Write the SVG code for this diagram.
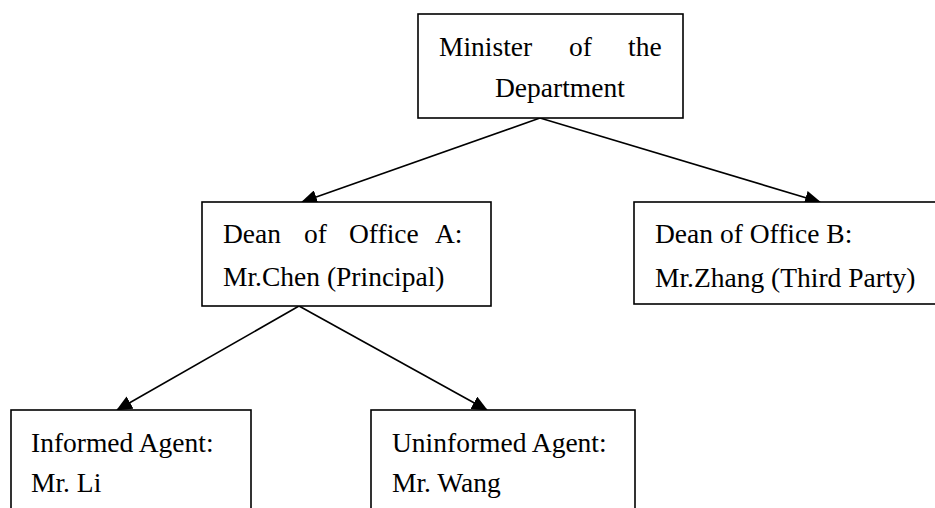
<svg xmlns="http://www.w3.org/2000/svg" width="935" height="508" viewBox="0 0 935 508">
<defs>
<style>
.box{fill:#fff;stroke:#000;stroke-width:1.6}
.t{font-family:"Liberation Serif","Times New Roman",serif;font-size:27.5px;fill:#000}
.c{stroke:#000;stroke-width:1.6;fill:none}
</style>
<marker id="ah" markerUnits="userSpaceOnUse" markerWidth="16" markerHeight="14" refX="15" refY="7" orient="auto">
<path d="M0,0 L16,7 L0,14 Z" fill="#000"/>
</marker>
</defs>
<rect width="935" height="508" fill="#fff"/>
<g id="connectors">
<line class="c" x1="540" y1="118" x2="302" y2="202" marker-end="url(#ah)"/>
<line class="c" x1="540" y1="118" x2="820" y2="202" marker-end="url(#ah)"/>
<line class="c" x1="299" y1="306" x2="117" y2="410" marker-end="url(#ah)"/>
<line class="c" x1="299" y1="306" x2="487" y2="410" marker-end="url(#ah)"/>
</g>
<g id="minister">
<rect class="box" x="418" y="14" width="265" height="104"/>
<text class="t" x="439" y="56">Minister</text>
<text class="t" x="569" y="56">of</text>
<text class="t" x="628" y="56">the</text>
<text class="t" x="495" y="97">Department</text>
</g>
<g id="deanA">
<rect class="box" x="202" y="202" width="289" height="104"/>
<text class="t" x="223" y="243">Dean</text>
<text class="t" x="304" y="243">of</text>
<text class="t" x="349" y="243">Office</text>
<text class="t" x="435" y="243">A:</text>
<text class="t" x="223" y="286">Mr.Chen (Principal)</text>
</g>
<g id="deanB">
<rect class="box" x="634" y="202" width="310" height="102"/>
<text class="t" x="655" y="243">Dean of Office B:</text>
<text class="t" x="655" y="287">Mr.Zhang (Third Party)</text>
</g>
<g id="informed">
<rect class="box" x="11" y="410" width="240" height="120"/>
<text class="t" x="31" y="452">Informed Agent:</text>
<text class="t" x="31" y="492">Mr. Li</text>
</g>
<g id="uninformed">
<rect class="box" x="371" y="410" width="264" height="120"/>
<text class="t" x="392" y="452">Uninformed Agent:</text>
<text class="t" x="392" y="492">Mr. Wang</text>
</g>
</svg>
